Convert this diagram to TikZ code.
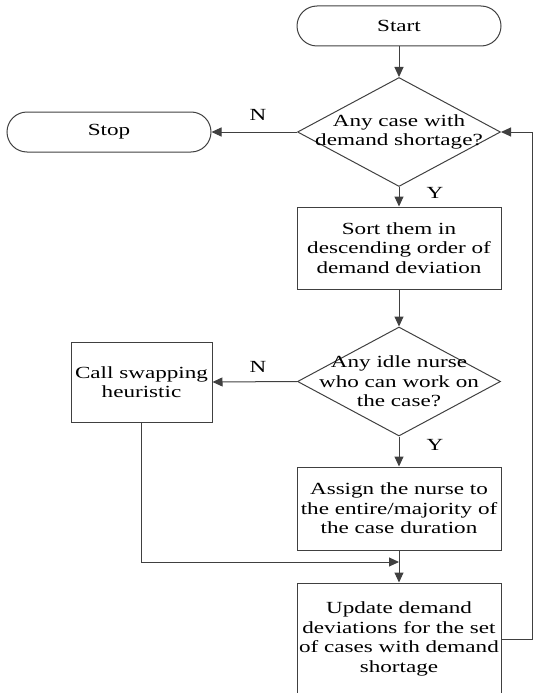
\documentclass[tikz,border=0pt]{standalone}
\usepackage{fontspec}
\setmainfont{Liberation Serif}[FakeStretch=1.36]
\usetikzlibrary{shapes.geometric,arrows.meta}
\definecolor{edge}{RGB}{64,64,64}
\begin{document}
\begin{tikzpicture}[x=1pt,y=-1pt,
  font=\fontsize{17}{19.5}\selectfont,
  terminal/.style={draw=edge, line width=1pt, rectangle, rounded corners=20pt,
    minimum width=204pt, minimum height=40pt, inner sep=0pt},
  process/.style={draw=edge, line width=1pt, rectangle, align=center,
    minimum width=204pt, inner sep=0pt},
  decision/.style={draw=edge, line width=1pt, diamond, inner sep=0pt,
    minimum width=203pt, minimum height=109pt},
  dtext/.style={align=center, inner sep=0pt},
  lbl/.style={inner sep=0pt},
  arr/.style={draw=edge, line width=1pt, -{Triangle[length=10pt,width=9pt]}},
  link/.style={draw=edge, line width=1pt}
]
\useasboundingbox (0,0) rectangle (534,693);
\clip (0,0) rectangle (534,693);

% nodes
\node[terminal] (start) at (399,26) {Start};
\node[decision] (d1) at (399,132) {};
\node[dtext] at (d1) {Any case with\\demand shortage?};
\node[terminal] (stop) at (109,132) {Stop};
\node[process, minimum height=82pt] (sort) at (399,248)
  {Sort them in\\descending order of\\demand deviation};
\node[decision] (d2) at (399,381.5) {};
\node[dtext] at (d2) {Any idle nurse\\who can work on\\the case?};
\node[process, minimum width=141pt, minimum height=80pt] (call) at (141.5,382)
  {Call swapping\\heuristic};
\node[process, minimum height=83pt] (assign) at (399,508.5)
  {Assign the nurse to\\the entire/majority of\\the case duration};
\node[process, minimum height=112pt] (upd) at (399,639)
  {Update demand\\deviations for the set\\of cases with demand\\shortage};

% branch labels
\node[lbl] (n1) at (258,115) {N};
\node[lbl] (y1) at (435,193) {Y};
\node[lbl] (n2) at (258,367) {N};
\node[lbl] (y2) at (435,445) {Y};

% helper points
\coordinate (join) at (399,562);
\coordinate (loop) at (532,132);

% connectors
\draw[arr] (start.south) -- (d1.north);
\draw[arr] (d1.west) -- (stop.east);
\draw[arr] (d1.south) -- (sort.north);
\draw[arr] (sort.south) -- (d2.north);
\draw[arr] (d2.west) -- (call.east);
\draw[arr] (d2.south) -- (assign.north);
\draw[arr] (assign.south) -- (upd.north);
\draw[arr] (call.south) |- (join);
\draw[arr] (upd.east) -| (loop) -- (d1.east);
\end{tikzpicture}
\end{document}
